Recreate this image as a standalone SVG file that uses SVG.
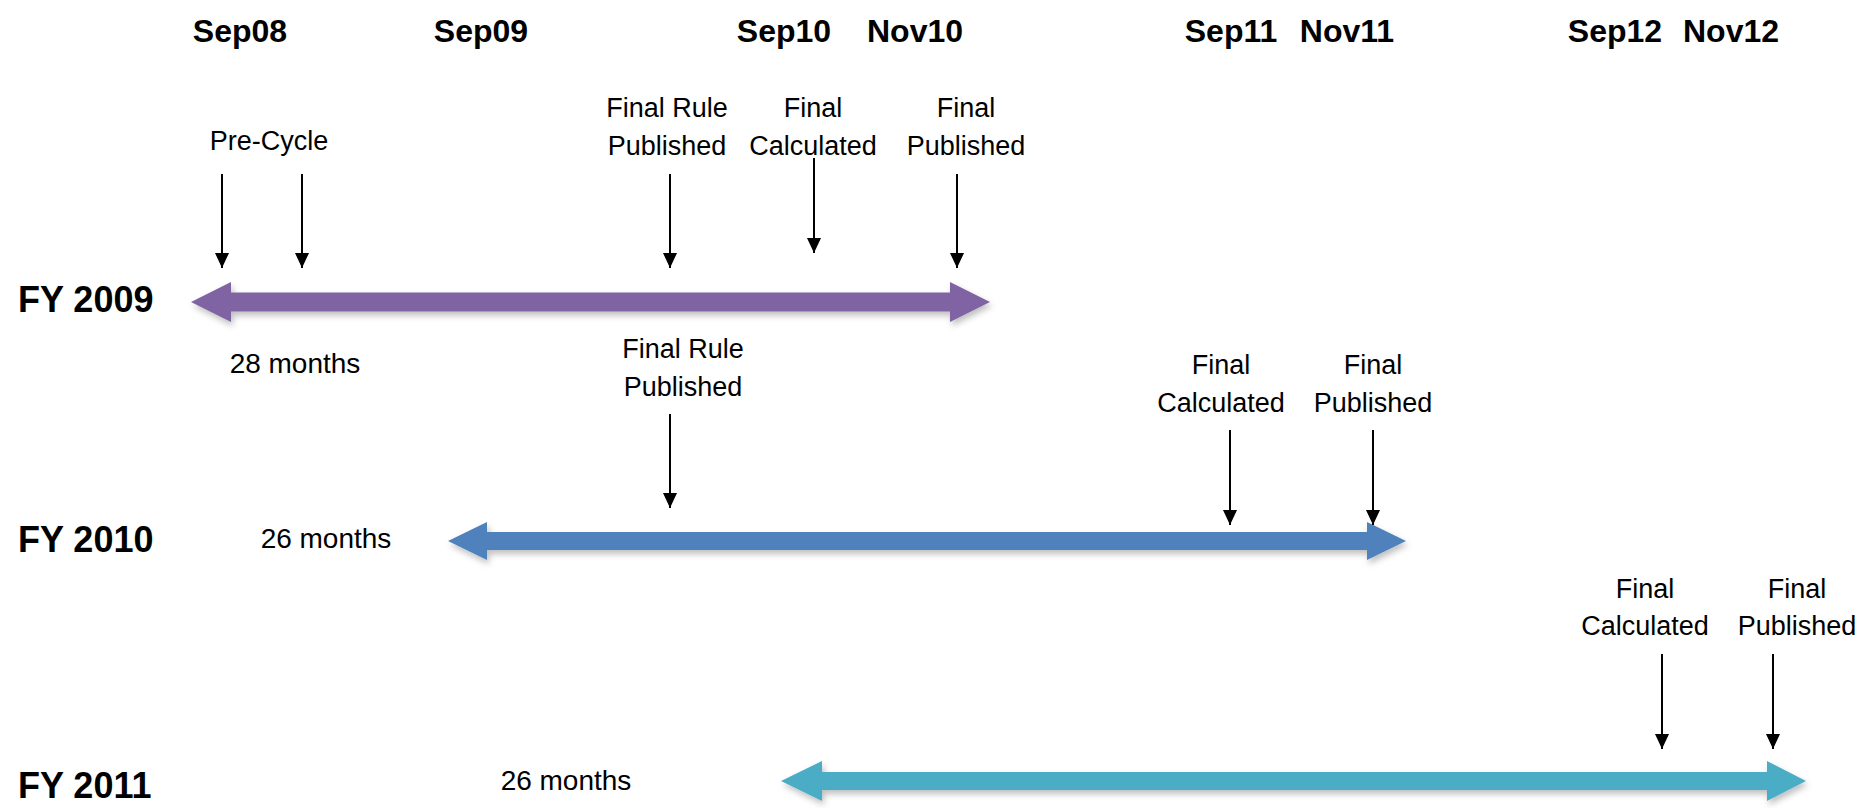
<svg xmlns="http://www.w3.org/2000/svg" width="1864" height="808" viewBox="0 0 1864 808">
  <style>
    .hdr { font-family: "Liberation Sans", Arial, sans-serif; font-weight: bold; font-size: 32px; fill: #000; text-anchor: middle; }
    .fy { font-family: "Liberation Sans", Arial, sans-serif; font-weight: bold; font-size: 36px; fill: #000; }
    .lbl { font-family: "Liberation Sans", Arial, sans-serif; font-size: 27px; fill: #000; text-anchor: middle; }
    .dur { font-family: "Liberation Sans", Arial, sans-serif; font-size: 28px; fill: #000; text-anchor: middle; }
    .ptr { stroke: #000; stroke-width: 2; fill: none; marker-end: url(#ah); }
  </style>
  <defs>
    <marker id="ah" markerUnits="userSpaceOnUse" markerWidth="16" markerHeight="14" refX="15" refY="7" orient="auto">
      <path d="M0,0 L15,7 L0,14 z" fill="#000"/>
    </marker>
    <filter id="sh" x="-5%" y="-50%" width="110%" height="200%">
      <feDropShadow dx="2" dy="4" stdDeviation="3" flood-color="#000" flood-opacity="0.25"/>
    </filter>
  </defs>
  <rect width="1864" height="808" fill="#fff"/>

  <g id="timeline-headers">
    <text class="hdr" x="240" y="42">Sep08</text>
    <text class="hdr" x="481" y="42">Sep09</text>
    <text class="hdr" x="784" y="42">Sep10</text>
    <text class="hdr" x="915" y="42">Nov10</text>
    <text class="hdr" x="1231" y="42">Sep11</text>
    <text class="hdr" x="1347" y="42">Nov11</text>
    <text class="hdr" x="1615" y="42">Sep12</text>
    <text class="hdr" x="1731" y="42">Nov12</text>
  </g>

  <g id="fy2009">
    <text class="fy" x="18" y="312">FY 2009</text>
    <polygon filter="url(#sh)" fill="#8064A2" points="191,302 231,282 231,292.5 950,292.5 950,282 990,302 950,322 950,311.5 231,311.5 231,322"/>
    <text class="dur" x="295" y="373">28 months</text>
  </g>

  <g id="fy2010">
    <text class="fy" x="18" y="552">FY 2010</text>
    <polygon filter="url(#sh)" fill="#4F81BD" points="448,541 487,522 487,532 1367,532 1367,522 1406,541 1367,560 1367,550 487,550 487,560"/>
    <text class="dur" x="326" y="548">26 months</text>
  </g>

  <g id="fy2011">
    <text class="fy" x="18" y="798">FY 2011</text>
    <polygon filter="url(#sh)" fill="#4BACC6" points="781,781 822,761 822,772 1767,772 1767,761 1806,781 1767,801 1767,790 822,790 822,801"/>
    <text class="dur" x="566" y="790">26 months</text>
  </g>

  <g id="milestones-2009">
    <text class="lbl" x="269" y="150">Pre-Cycle</text>
    <text class="lbl" x="667" y="117">Final Rule</text>
    <text class="lbl" x="667" y="155">Published</text>
    <text class="lbl" x="813" y="117">Final</text>
    <text class="lbl" x="813" y="155">Calculated</text>
    <text class="lbl" x="966" y="117">Final</text>
    <text class="lbl" x="966" y="155">Published</text>
  </g>

  <g id="milestones-2010">
    <text class="lbl" x="683" y="358">Final Rule</text>
    <text class="lbl" x="683" y="396">Published</text>
    <text class="lbl" x="1221" y="374">Final</text>
    <text class="lbl" x="1221" y="412">Calculated</text>
    <text class="lbl" x="1373" y="374">Final</text>
    <text class="lbl" x="1373" y="412">Published</text>
  </g>

  <g id="milestones-2011">
    <text class="lbl" x="1645" y="598">Final</text>
    <text class="lbl" x="1645" y="635">Calculated</text>
    <text class="lbl" x="1797" y="598">Final</text>
    <text class="lbl" x="1797" y="635">Published</text>
  </g>

  <g id="connectors">
    <line class="ptr" x1="222" y1="174" x2="222" y2="268"/>
    <line class="ptr" x1="302" y1="174" x2="302" y2="268"/>
    <line class="ptr" x1="670" y1="174" x2="670" y2="268"/>
    <line class="ptr" x1="814" y1="158" x2="814" y2="253"/>
    <line class="ptr" x1="957" y1="174" x2="957" y2="268"/>
    <line class="ptr" x1="670" y1="414" x2="670" y2="508"/>
    <line class="ptr" x1="1230" y1="430" x2="1230" y2="525"/>
    <line class="ptr" x1="1373" y1="430" x2="1373" y2="525"/>
    <line class="ptr" x1="1662" y1="654" x2="1662" y2="749"/>
    <line class="ptr" x1="1773" y1="654" x2="1773" y2="749"/>
  </g>
</svg>
